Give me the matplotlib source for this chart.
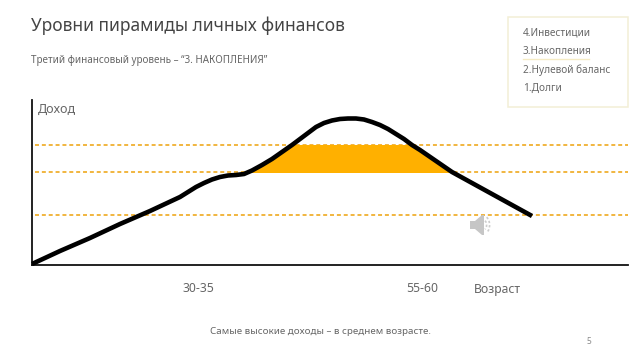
import matplotlib
matplotlib.use("Agg")
import matplotlib.pyplot as plt
from matplotlib.patches import Polygon, Rectangle, Arc
import numpy as np

plt.rcParams['font.family'] = ['Noto Sans', 'DejaVu Sans']

# income curve (origin of the axes = corner of the chart)
curve_x = [0, 28, 58, 88, 118, 148, 156, 164, 172, 180, 188, 196, 204, 212, 220, 230, 240,
           250, 260, 268, 276, 284, 292, 300, 308, 316, 324, 332, 340, 348, 356, 364,
           372, 380, 388, 404, 420, 440, 460, 480, 500]
curve_y = [1, 14, 27, 41, 54, 68, 73, 78, 82, 85.5, 88, 89.5, 90, 91, 94.5, 100, 106,
           113, 120, 126, 132, 138, 142, 144.5, 146, 146.5, 146.5, 145.5, 143, 140, 136, 131,
           126, 120, 115, 104, 93, 82, 71, 60, 49]
levels = [50, 93, 120]
level_low = 92.5
level_high = 120.5

legend_items = ["4.Инвестиции", "3.Накопления", "2.Нулевой баланс", "1.Долги"]
age_labels = ["30-35", "55-60", "Возраст"]
age_pos = [166, 390, 442]
age_align = ['center', 'center', 'left']

fig = plt.figure(figsize=(6.4, 3.6), dpi=100)
W, H = 640, 360

# chart axes: 32..628 px wide, 100..265 px down
ax = fig.add_axes([32 / W, (H - 265) / H, 596 / W, 165 / H])
ax.set_xlim(0, 596)
ax.set_ylim(0, 165)
ax.patch.set_alpha(0)
for s in ['top', 'right']:
    ax.spines[s].set_visible(False)
for s in ['left', 'bottom']:
    ax.spines[s].set_linewidth(1.3)
    ax.spines[s].set_color('#111111')
ax.set_xticks([])
ax.set_yticks([])

for lv in levels:
    ax.axhline(lv, xmin=3 / 596, color='#F0B030', lw=1.3, dashes=(2.2, 1.6), zorder=1)

# band between the two levels, cut off by the curve
band = ax.axhspan(level_low, level_high, color='#FFB000', lw=0, zorder=2)
under = Polygon(np.column_stack([curve_x, curve_y]), closed=True, transform=ax.transData)
band.set_clip_path(under)

ax.plot(curve_x, curve_y, color='black', lw=3.3, solid_capstyle='butt',
        solid_joinstyle='round', zorder=3, clip_on=False)

ax.text(6, 156, "Доход", fontsize=9, color='#666666', va='center', ha='left')

# full figure overlay for the slide furniture, in pixels
over = fig.add_axes([0, 0, 1, 1], zorder=5)
over.set_xlim(0, W)
over.set_ylim(H, 0)
over.axis('off')
over.patch.set_alpha(0)

over.text(31, 26, "Уровни пирамиды личных финансов", fontsize=12.5, color='#444444',
          va='center', ha='left')
over.text(31, 60, "Третий финансовый уровень – “3. НАКОПЛЕНИЯ”", fontsize=7.1,
          color='#666666', va='center', ha='left')
over.text(320, 332, "Самые высокие доходы – в среднем возрасте.", fontsize=7.0,
          color='#666666', va='center', ha='center')
over.text(589, 342, "5", fontsize=6, color='#888888', va='center', ha='center')

for lab, p, al in zip(age_labels, age_pos, age_align):
    ax.text(p, -24, lab, fontsize=8.8, color='#666666', va='center', ha=al)

# legend box
over.add_patch(Rectangle((507.5, 16.5), 120, 90, fill=False, ec='#F3EFD6', lw=1.1))
for i, item in enumerate(legend_items):
    over.text(523, 33 + i * 18.6, item, fontsize=7.2, color='#666666', va='center', ha='left')
over.plot([523, 589], [59, 59], color='#F5EBC4', lw=1)

# speaker icon
over.add_patch(Polygon([[470, 221], [475, 221], [482, 215], [484, 215], [484, 235],
                        [482, 235], [475, 229], [470, 229]], closed=True,
                       fc='#C6C6C6', ec='none'))
for r in [6, 11]:
    over.add_patch(Arc((483, 225), r * 1.2, r * 1.7, theta1=-65, theta2=65,
                       ec='#CDCDCD', lw=1.2, ls=(0, (1.4, 1.2))))

fig.savefig('out.png', dpi=100, facecolor='white')
